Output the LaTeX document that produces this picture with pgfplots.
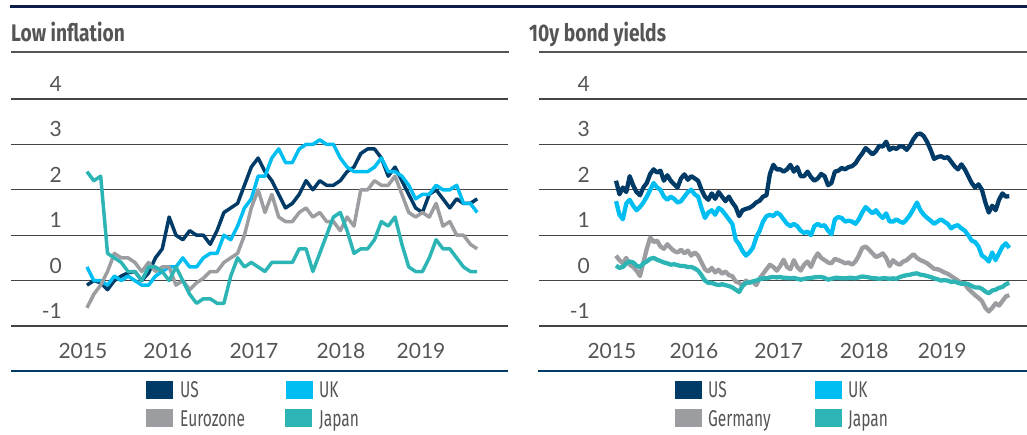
\documentclass[border=0pt]{standalone}
\usepackage{fontspec}
\setmainfont{Lato}
\newfontfamily\titlefont[FakeStretch=0.8]{Fira Sans}
\newfontfamily\legfont[FakeStretch=0.68]{Fira Sans}
\usepackage{pgfplots}
\usepackage{pgfplotstable}
\pgfplotsset{compat=1.18}

\definecolor{usblue}{HTML}{003A66}
\definecolor{ukblue}{HTML}{00BEF2}
\definecolor{eugray}{HTML}{9C9DA1}
\definecolor{jpteal}{HTML}{2DB5B5}
\definecolor{topnavy}{HTML}{0D1E4A}
\definecolor{txtgray}{HTML}{555555}
\definecolor{gridc}{HTML}{444444}

% monthly CPI, % y/y, month 0 = Jan 2015
\pgfplotstableread{
m us uk ez jp
0 -0.1 0.3 -0.6 2.4
1 0.0 0.0 -0.3 2.2
2 -0.05 0.0 -0.1 2.3
3 -0.2 -0.1 0.2 0.6
4 0.0 0.1 0.6 0.5
5 0.1 0.0 0.5 0.4
6 0.17 0.1 0.5 0.2
7 0.2 0.0 0.4 0.2
8 0.0 -0.1 0.2 0.0
9 0.17 -0.1 0.4 0.3
10 0.5 0.1 0.2 0.3
11 0.7 0.2 0.3 0.2
12 1.4 0.3 0.3 0.0
13 1.0 0.3 -0.1 0.3
14 0.9 0.5 0.0 0.0
15 1.1 0.3 -0.2 -0.3
16 1.0 0.3 -0.05 -0.5
17 1.0 0.5 0.05 -0.4
18 0.8 0.6 0.2 -0.4
19 1.1 0.6 0.2 -0.5
20 1.5 1.0 0.4 -0.5
21 1.6 0.9 0.5 0.1
22 1.7 1.2 0.6 0.5
23 2.1 1.6 1.0 0.3
24 2.5 1.8 1.6 0.4
25 2.7 2.3 2.0 0.3
26 2.4 2.3 1.5 0.2
27 2.2 2.7 1.9 0.4
28 1.9 2.9 1.4 0.4
29 1.6 2.6 1.3 0.4
30 1.7 2.6 1.3 0.4
31 1.9 2.9 1.5 0.7
32 2.2 3.0 1.6 0.7
33 2.0 3.0 1.4 0.2
34 2.2 3.1 1.5 0.6
35 2.1 3.0 1.3 1.0
36 2.1 3.0 1.3 1.4
37 2.2 2.7 1.1 1.5
38 2.4 2.5 1.4 1.1
39 2.5 2.4 1.2 0.6
40 2.8 2.4 2.0 0.7
41 2.9 2.4 2.0 0.7
42 2.9 2.5 2.2 0.9
43 2.7 2.7 2.1 1.3
44 2.3 2.4 2.1 1.2
45 2.5 2.4 2.3 1.4
46 2.2 2.3 1.9 0.8
47 1.9 2.1 1.5 0.3
48 1.6 1.8 1.4 0.2
49 1.5 1.9 1.5 0.2
50 1.9 1.9 1.4 0.5
51 2.0 2.1 1.7 0.9
52 1.8 2.0 1.2 0.7
53 1.6 2.0 1.3 0.7
54 1.8 2.1 1.0 0.5
55 1.7 1.7 1.0 0.3
56 1.7 1.7 0.8 0.2
57 1.8 1.5 0.7 0.2
}\cpi

% 10y yields, %, half-month steps
\pgfplotstableread{
m us uk de jp
0 2.20 1.75 0.55 0.33
0.5 1.90 1.45 0.45 0.28
1 2.05 1.35 0.38 0.30
1.5 1.95 1.70 0.50 0.38
2 2.30 1.78 0.35 0.42
2.5 2.10 1.65 0.30 0.40
3 1.95 1.55 0.22 0.33
3.5 1.88 1.62 0.10 0.30
4 2.05 1.72 0.40 0.38
4.5 2.15 1.85 0.70 0.42
5 2.35 2.00 0.95 0.48
5.5 2.45 2.15 0.85 0.50
6 2.38 2.05 0.88 0.46
6.5 2.42 2.00 0.75 0.43
7 2.20 1.85 0.70 0.40
7.5 2.32 1.78 0.80 0.38
8 2.20 1.85 0.72 0.35
8.5 2.12 1.80 0.65 0.36
9 2.05 1.72 0.62 0.34
9.5 2.25 1.75 0.68 0.32
10 2.34 1.85 0.60 0.32
10.5 2.22 1.95 0.66 0.30
11 2.30 2.00 0.55 0.30
11.5 2.25 1.90 0.62 0.27
12 2.20 1.85 0.55 0.22
12.5 2.00 1.60 0.40 0.12
13 1.85 1.38 0.25 0.00
13.5 1.78 1.50 0.20 -0.05
14 1.92 1.55 0.28 -0.05
14.5 1.80 1.45 0.18 -0.08
15 1.95 1.60 0.24 -0.10
15.5 1.85 1.55 0.15 -0.08
16 1.75 1.45 0.20 -0.10
16.5 1.85 1.35 0.12 -0.12
17 1.72 1.25 0.10 -0.15
17.5 1.62 0.90 -0.02 -0.20
18 1.42 0.80 -0.05 -0.25
18.5 1.55 0.65 -0.12 -0.12
19 1.58 0.55 0.00 -0.05
19.5 1.60 0.62 -0.05 -0.04
20 1.65 0.72 -0.02 -0.02
20.5 1.72 0.95 -0.10 0.00
21 1.76 1.10 0.05 0.03
21.5 1.85 1.30 0.15 0.05
22 1.88 1.42 0.25 0.05
22.5 2.35 1.45 0.35 0.07
23 2.55 1.42 0.30 0.08
23.5 2.45 1.50 0.22 0.07
24 2.45 1.45 0.32 0.08
24.5 2.40 1.35 0.46 0.06
25 2.45 1.25 0.30 0.06
25.5 2.55 1.20 0.25 0.05
26 2.40 1.25 0.45 0.06
26.5 2.50 1.20 0.30 0.04
27 2.30 1.10 0.22 0.02
27.5 2.30 1.05 0.35 0.04
28 2.40 1.08 0.42 0.05
28.5 2.28 1.00 0.30 0.06
29 2.20 1.20 0.48 0.07
29.5 2.25 1.25 0.60 0.08
30 2.35 1.20 0.50 0.08
30.5 2.30 1.22 0.45 0.06
31 2.10 1.10 0.40 0.02
31.5 2.15 1.02 0.38 0.04
32 2.40 1.35 0.48 0.06
32.5 2.42 1.40 0.45 0.06
33 2.48 1.38 0.42 0.05
33.5 2.45 1.30 0.38 0.05
34 2.50 1.32 0.40 0.06
34.5 2.52 1.30 0.35 0.06
35 2.58 1.25 0.42 0.05
35.5 2.70 1.35 0.55 0.07
36 2.80 1.50 0.72 0.09
36.5 2.92 1.62 0.75 0.08
37 2.85 1.55 0.68 0.07
37.5 2.78 1.48 0.60 0.05
38 2.85 1.55 0.52 0.05
38.5 2.97 1.45 0.55 0.04
39 2.95 1.38 0.60 0.05
39.5 3.06 1.48 0.50 0.05
40 2.88 1.30 0.32 0.04
40.5 2.93 1.30 0.45 0.05
41 2.90 1.35 0.38 0.04
41.5 2.96 1.30 0.35 0.08
42 2.95 1.27 0.42 0.10
42.5 2.88 1.35 0.45 0.12
43 2.98 1.45 0.52 0.13
43.5 3.12 1.58 0.58 0.15
44 3.22 1.72 0.50 0.16
44.5 3.24 1.55 0.45 0.13
45 3.18 1.45 0.42 0.12
45.5 3.05 1.38 0.38 0.10
46 2.88 1.32 0.32 0.08
46.5 2.68 1.25 0.26 0.05
47 2.72 1.30 0.25 0.03
47.5 2.74 1.35 0.22 0.00
48 2.70 1.30 0.18 0.01
48.5 2.72 1.25 0.15 0.00
49 2.62 1.15 0.10 -0.03
49.5 2.52 1.20 0.05 -0.02
50 2.45 1.22 0.00 -0.05
50.5 2.56 1.15 -0.05 -0.07
51 2.45 1.10 -0.08 -0.06
51.5 2.30 1.00 -0.18 -0.08
52 2.15 0.88 -0.25 -0.12
52.5 2.05 0.85 -0.32 -0.15
53 2.12 0.75 -0.38 -0.15
53.5 2.00 0.55 -0.45 -0.18
54 1.72 0.50 -0.60 -0.24
54.5 1.50 0.42 -0.68 -0.28
55 1.65 0.62 -0.60 -0.22
55.5 1.55 0.45 -0.50 -0.20
56 1.78 0.60 -0.55 -0.16
56.5 1.92 0.75 -0.45 -0.14
57 1.85 0.82 -0.35 -0.08
57.5 1.86 0.72 -0.32 -0.05
}\yields

\pgfplotsset{panel/.style={
    scale only axis, height=227pt, anchor=south west,
    ymin=-1, ymax=4,
    ytick={-1,0,1,2,3,4}, yticklabels={-1,0,1,2,3,4},
    xticklabels={2015,2016,2017,2018,2019},
    axis line style={draw=none}, major tick length=0pt,
    ymajorgrids, major grid style={gridc, line width=1.2pt},
    tick label style={font=\fontsize{21}{21}\selectfont, text=txtgray, inner sep=0pt},
    yticklabel style={anchor=base east, xshift=51pt, yshift=7.5pt},
    xticklabel style={anchor=base, yshift=-33pt},
    clip=false,
    every axis plot/.append style={line width=3.5pt, line join=round, no markers},
}}

\begin{document}
\begin{tikzpicture}
\useasboundingbox (0,0) rectangle (1027pt,435pt);

% frame lines and titles
\draw[topnavy, line width=2.7pt] (10pt,428.3pt) -- (1027pt,428.3pt);
\node[anchor=base west, inner sep=0pt, text=txtgray, font=\titlefont\bfseries\fontsize{24}{24}\selectfont] at (11pt,393pt) {Low inflation};
\node[anchor=base west, inner sep=0pt, text=txtgray, font=\titlefont\bfseries\fontsize{24}{24}\selectfont] at (529pt,393pt) {10y bond yields};
\draw[txtgray, line width=1.7pt] (11pt,383pt) -- (509pt,383pt);
\draw[txtgray, line width=1.7pt] (539pt,383pt) -- (1027pt,383pt);

\begin{axis}[panel, at={(11pt,109pt)}, width=497pt,
    xmin=-11.1, xmax=61.5, xtick={-0.6,11.8,24.4,37.1,48.8}]
\addplot[usblue] table[x=m, y=us] {\cpi};
\addplot[ukblue] table[x=m, y=uk] {\cpi};
\addplot[eugray] table[x=m, y=ez] {\cpi};
\addplot[jpteal] table[x=m, y=jp] {\cpi};
\end{axis}

\begin{axis}[panel, at={(539pt,109pt)}, width=488pt,
    xmin=-11.26, xmax=60.09, xtick={-0.6,11.4,23.8,36.3,47.7},
    every axis plot/.append style={line width=4.3pt}]
\addplot[usblue] table[x=m, y=us] {\yields};
\addplot[ukblue] table[x=m, y=uk] {\yields};
\addplot[eugray] table[x=m, y=de] {\yields};
\addplot[jpteal] table[x=m, y=jp] {\yields};
\end{axis}

% bottom rules
\draw[usblue, line width=2pt] (11pt,64pt) -- (508pt,64pt);
\draw[usblue, line width=2pt] (538pt,64pt) -- (1027pt,64pt);

% legends
\begin{scope}[every node/.style={anchor=base west, inner sep=0pt, text=txtgray, font=\legfont\fontsize{22.8}{22.8}\selectfont}]
\fill[usblue] (146pt,36pt) rectangle (173pt,54pt);
\node at (180pt,37pt) {US};
\fill[ukblue] (286pt,36pt) rectangle (313pt,54pt);
\node at (319pt,37pt) {UK};
\fill[eugray] (146pt,7.5pt) rectangle (173pt,26pt);
\node at (180pt,8.3pt) {Eurozone};
\fill[jpteal] (285pt,7.5pt) rectangle (312pt,26pt);
\node at (319pt,8.3pt) {Japan};

\fill[usblue] (675pt,36pt) rectangle (702pt,54pt);
\node at (708pt,37pt) {US};
\fill[ukblue] (815pt,36pt) rectangle (842pt,54pt);
\node at (848pt,37pt) {UK};
\fill[eugray] (675pt,7.5pt) rectangle (702pt,26pt);
\node at (708pt,8.3pt) {Germany};
\fill[jpteal] (815pt,7.5pt) rectangle (842pt,26pt);
\node at (848pt,8.3pt) {Japan};
\end{scope}
\end{tikzpicture}
\end{document}
